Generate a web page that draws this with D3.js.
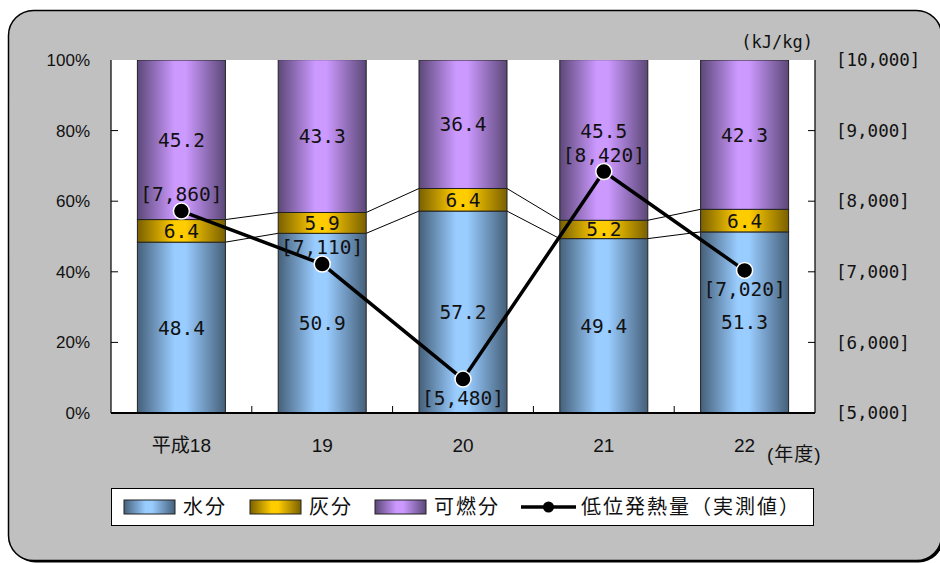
<!DOCTYPE html>
<html><head><meta charset="utf-8">
<script src="https://cdn.jsdelivr.net/npm/d3@7/dist/d3.min.js"></script>
<style>
html,body{margin:0;padding:0;background:#fff;}
svg{display:block;}
</style></head>
<body>
<svg id="c" width="940" height="563"></svg>
<script>
const categories = ["平成18", "19", "20", "21", "22"];
const water = [48.4, 50.9, 57.2, 49.4, 51.3];
const ash = [6.4, 5.9, 6.4, 5.2, 6.4];
const combustible = [45.2, 43.3, 36.4, 45.5, 42.3];
const heat = [7860, 7110, 5480, 8420, 7020];
const heatLabelSide = ["above", "above", "below", "above", "below"];
const leftTicks = [0, 20, 40, 60, 80, 100];
const rightTicks = [5000, 6000, 7000, 8000, 9000, 10000];
const seriesNames = ["水分", "灰分", "可燃分"];
const lineName = "低位発熱量（実測値）";

const svg = d3.select("#c");
const defs = svg.append("defs");

const pl = 111, pr = 815, pt = 60, pb = 413;

// background with shadow
svg.append("rect").attr("x", 10.5).attr("y", 12.5).attr("width", 933).attr("height", 550)
  .attr("rx", 25).attr("fill", "#000");
svg.append("rect").attr("x", 8.5).attr("y", 10.5).attr("width", 933).attr("height", 550)
  .attr("rx", 25).attr("fill", "#c0c0c0").attr("stroke", "#000").attr("stroke-width", 1.5);
svg.append("rect").attr("x", pl).attr("y", pt).attr("width", pr - pl).attr("height", pb - pt).attr("fill", "#fff");

const x = d3.scaleBand().domain(categories).range([pl, pr]).paddingInner(0.375).paddingOuter(0.1875);
const y = d3.scaleLinear().domain([0, 100]).range([pb, pt]);
const y2 = d3.scaleLinear().domain([5000, 10000]).range([pb, pt]);

const colors = [
  {light: "#99ccff", dark: "#45607a"},
  {light: "#ffcc00", dark: "#7a6000"},
  {light: "#cc99ff", dark: "#5c4878"}
];
colors.forEach((c, i) => {
  const g = defs.append("linearGradient").attr("id", "g" + i).attr("x1", "0").attr("x2", "1").attr("y1", "0").attr("y2", "0");
  g.append("stop").attr("offset", "0").attr("stop-color", c.dark);
  g.append("stop").attr("offset", "0.42").attr("stop-color", c.light);
  g.append("stop").attr("offset", "0.55").attr("stop-color", c.light);
  g.append("stop").attr("offset", "1").attr("stop-color", c.dark);
});
defs.append("clipPath").attr("id", "clip").append("rect").attr("x", pl).attr("y", pt).attr("width", pr - pl).attr("height", pb - pt);

const data = categories.map((c, i) => ({cat: c, water: water[i], ash: ash[i], combustible: combustible[i]}));
const stack = d3.stack().keys(["water", "ash", "combustible"])(data);

// series lines (between stacked segments)
const sl = svg.append("g").attr("stroke", "#000").attr("stroke-width", 1).attr("fill", "none");
[0, 1].forEach(k => {
  for (let i = 0; i < categories.length - 1; i++) {
    sl.append("line")
      .attr("x1", x(categories[i]) + x.bandwidth()).attr("y1", y(stack[k][i][1]))
      .attr("x2", x(categories[i + 1])).attr("y2", y(stack[k][i + 1][1]));
  }
});

// bars
const bars = svg.append("g").attr("clip-path", "url(#clip)");
stack.forEach((s, k) => {
  bars.selectAll(null).data(s).enter().append("rect")
    .attr("x", d => x(d.data.cat)).attr("width", x.bandwidth())
    .attr("y", d => y(d[1])).attr("height", d => y(d[0]) - y(d[1]))
    .attr("fill", `url(#g${k})`).attr("stroke", "#222").attr("stroke-width", 1);
});

// value labels
const valFont = "'DejaVu Sans Mono', 'Liberation Mono', monospace";
const nudge = {"2-3": -9};
stack.forEach((s, k) => {
  svg.append("g").selectAll(null).data(s).enter().append("text")
    .attr("x", d => x(d.data.cat) + x.bandwidth() / 2)
    .attr("y", (d, i) => (y(d[0]) + y(Math.min(d[1], 100))) / 2 + (nudge[k + "-" + i] || 0))
    .attr("dy", "0.36em").attr("text-anchor", "middle")
    .attr("font-family", valFont).attr("font-size", 19.5).attr("fill", "#111")
    .text(d => (d[1] - d[0]).toFixed(1));
});

// axes
const axisG = svg.append("g");
axisG.append("line").attr("x1", pl).attr("x2", pl).attr("y1", pt).attr("y2", pb).attr("stroke", "#000").attr("stroke-width", 1.2);
axisG.append("line").attr("x1", pr).attr("x2", pr).attr("y1", pt).attr("y2", pb).attr("stroke", "#000").attr("stroke-width", 1.2);
axisG.append("line").attr("x1", pl).attr("x2", pr).attr("y1", pb).attr("y2", pb).attr("stroke", "#000").attr("stroke-width", 2);

const leftAxis = d3.axisLeft(y).tickValues(leftTicks).tickSize(0).tickFormat(d => d + "%").tickPadding(21);
const la = svg.append("g").attr("transform", `translate(${pl},0)`).call(leftAxis);
la.select(".domain").remove();
la.selectAll("text").attr("font-family", "'Liberation Sans', Arial, sans-serif").attr("font-size", 17).attr("fill", "#111");
svg.append("g").selectAll(null).data(leftTicks.slice(1, -1)).enter().append("line")
  .attr("x1", pl).attr("x2", pl + 7).attr("y1", d => y(d)).attr("y2", d => y(d)).attr("stroke", "#000");

const rightAxis = d3.axisRight(y2).tickValues(rightTicks).tickSize(0).tickPadding(21)
  .tickFormat(d => "[" + d3.format(",")(d) + "]");
const ra = svg.append("g").attr("transform", `translate(${pr},0)`).call(rightAxis);
ra.select(".domain").remove();
ra.selectAll("text").attr("font-family", valFont).attr("font-size", 17.5).attr("fill", "#111");
svg.append("g").selectAll(null).data(rightTicks.slice(1, -1)).enter().append("line")
  .attr("x1", pr - 7).attr("x2", pr).attr("y1", d => y2(d)).attr("y2", d => y2(d)).attr("stroke", "#000");

// x ticks between categories
svg.append("g").selectAll(null).data(categories.slice(1)).enter().append("line")
  .attr("x1", d => x(d) - x.step() * x.paddingInner() / 2).attr("x2", d => x(d) - x.step() * x.paddingInner() / 2)
  .attr("y1", pb).attr("y2", pb - 7).attr("stroke", "#000");

const xAxis = d3.axisBottom(x).tickSize(0).tickPadding(26);
const xa = svg.append("g").attr("transform", `translate(0,${pb})`).call(xAxis);
xa.select(".domain").remove();
xa.selectAll("text").attr("font-family", "'Liberation Sans', 'Noto Sans CJK JP', sans-serif").attr("font-size", 19).attr("fill", "#111");

svg.append("text").attr("x", 767).attr("y", 461).attr("font-family", "'Liberation Sans', 'Noto Sans CJK JP', sans-serif")
  .attr("font-size", 19).attr("fill", "#111").attr("letter-spacing", 1).text("(年度)");
svg.append("text").attr("x", 813).attr("y", 48).attr("text-anchor", "end").attr("font-family", valFont)
  .attr("font-size", 17).attr("fill", "#111").text("(kJ/kg)");

// heat line
const line = d3.line().x((d, i) => x(categories[i]) + x.bandwidth() / 2).y(d => y2(d));
svg.append("path").datum(heat).attr("d", line).attr("fill", "none").attr("stroke", "#000").attr("stroke-width", 3.5);
svg.append("g").selectAll(null).data(heat).enter().append("circle")
  .attr("cx", (d, i) => x(categories[i]) + x.bandwidth() / 2).attr("cy", d => y2(d)).attr("r", 8)
  .attr("fill", "#000").attr("stroke", "#fff").attr("stroke-width", 1.5);
svg.append("g").selectAll(null).data(heat).enter().append("text")
  .attr("x", (d, i) => x(categories[i]) + x.bandwidth() / 2)
  .attr("y", (d, i) => y2(d) + (heatLabelSide[i] === "above" ? -17 : 19))
  .attr("dy", "0.36em").attr("text-anchor", "middle")
  .attr("font-family", valFont).attr("font-size", 19.5).attr("fill", "#111")
  .text(d => "[" + d3.format(",")(d) + "]");

// legend
const lg = svg.append("g");
lg.append("rect").attr("x", 111.5).attr("y", 488.5).attr("width", 702).attr("height", 37).attr("fill", "#fff").attr("stroke", "#000").attr("stroke-width", 1);
const legX = [124, 250, 375];
const legFont = "'Noto Sans CJK JP', sans-serif";
seriesNames.forEach((n, i) => {
  lg.append("rect").attr("x", legX[i]).attr("y", 500).attr("width", 51).attr("height", 14)
    .attr("fill", `url(#g${i})`).attr("stroke", "#222");
  lg.append("text").attr("x", legX[i] + 59).attr("y", 507).attr("dy", "0.35em")
    .attr("font-family", legFont).attr("font-size", 20).attr("letter-spacing", 2).attr("fill", "#111").text(n);
});
lg.append("line").attr("x1", 521).attr("x2", 576).attr("y1", 507).attr("y2", 507).attr("stroke", "#000").attr("stroke-width", 3.5);
lg.append("circle").attr("cx", 548.5).attr("cy", 507).attr("r", 5.5).attr("fill", "#000");
lg.append("text").attr("x", 581).attr("y", 507).attr("dy", "0.35em")
  .attr("font-family", legFont).attr("font-size", 20).attr("letter-spacing", 2).attr("fill", "#111").text(lineName);
</script>
</body></html>
